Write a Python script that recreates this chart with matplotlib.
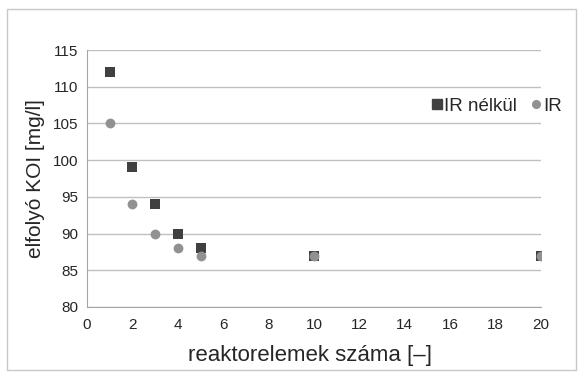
import matplotlib
matplotlib.use('Agg')
import matplotlib.pyplot as plt
from matplotlib.patches import Rectangle
from matplotlib.lines import Line2D

# data
elemek = [1, 2, 3, 4, 5, 10, 20]
koi_ir_nelkul = [112, 99, 94, 90, 88, 87, 87]
koi_ir = [105, 94, 90, 88, 87, 87, 87]

x_ticks = list(range(0, 21, 2))
y_ticks = list(range(80, 116, 5))

plt.rcParams['font.family'] = ['Liberation Sans', 'DejaVu Sans']

W, H = 579, 376
fig = plt.figure(figsize=(W / 100, H / 100), dpi=100)
fig.patch.set_facecolor('white')

# outer chart border
fig.patches.append(Rectangle((7 / W, 6 / H), 569 / W, 361 / H,
                             transform=fig.transFigure, fill=False,
                             edgecolor='#c8c8c8', linewidth=1))

# plot area: x from 87 to 541 px, y from 50 to 307 px
ax = fig.add_axes([87 / W, 1 - 307 / H, 454 / W, 257 / H])

dark = '#404040'
light = '#919191'
txt = '#262626'

ax.scatter(elemek, koi_ir_nelkul, marker='s', s=42, color=dark,
           linewidths=0, zorder=3)
ax.scatter(elemek, koi_ir, marker='o', s=50, color=light,
           linewidths=0, zorder=4)

ax.set_xlim(0, 20)
ax.set_ylim(80, 115)
ax.set_xticks(x_ticks)
ax.set_yticks(y_ticks)
ax.tick_params(axis='y', length=0, labelsize=11, colors=txt, pad=6.5)
ax.tick_params(axis='x', length=0, labelsize=11, colors=txt, pad=8)
ax.grid(axis='y', color='#c0c0c0', linewidth=1)
ax.set_axisbelow(True)
for side in ['top', 'right']:
    ax.spines[side].set_visible(False)
for side in ['left', 'bottom']:
    ax.spines[side].set_color('#a6a6a6')

ax.set_xlabel('reaktorelemek száma [–]', fontsize=16, color=txt, va='center')
ax.xaxis.set_label_coords(0.5 - 4 / 454, (307 - 355) / 257)
ax.set_ylabel('elfolyó KOI [mg/l]', fontsize=15, color=txt, va='center')
ax.yaxis.set_label_coords((36 - 87) / 454, 0.5)

# legend on the right, square and circle markers
handles = [
    Line2D([], [], linestyle='none', marker='s', markersize=7, color=dark),
    Line2D([], [], linestyle='none', marker='o', markersize=5.5, color=light),
]
leg = fig.legend(handles, ['IR nélkül', 'IR'], loc='center left',
                 bbox_to_anchor=(431 / W, 1 - 106 / H), ncol=2,
                 frameon=False, handlelength=0.6, handletextpad=0.1,
                 columnspacing=0.7, fontsize=13.5, borderaxespad=0,
                 borderpad=0)
for t in leg.get_texts():
    t.set_color(txt)

fig.savefig('out.png', dpi=100)
